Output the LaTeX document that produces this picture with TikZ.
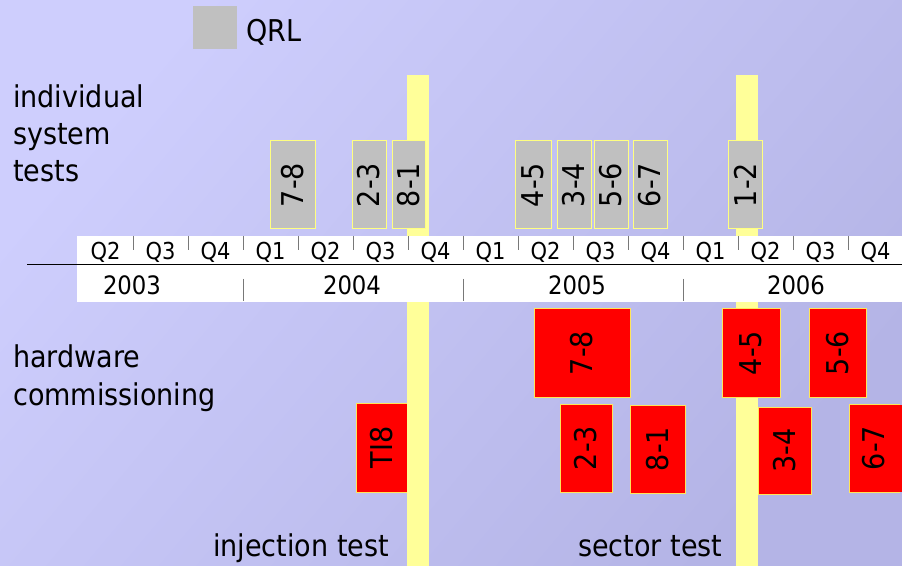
\documentclass[tikz,border=0pt]{standalone}
\usepackage{fontspec}
\setmainfont{DejaVu Sans Condensed}
\definecolor{bgL}{RGB}{206,206,253}
\definecolor{bgR}{RGB}{180,180,230}
\definecolor{barY}{RGB}{255,255,153}
\definecolor{qrlgray}{RGB}{192,192,192}
\definecolor{qedge}{RGB}{255,255,128}
\definecolor{hwred}{RGB}{255,0,0}
\definecolor{hedge}{RGB}{255,230,90}
\definecolor{tickc}{RGB}{120,120,120}
\begin{document}
\begin{tikzpicture}[x=0.75pt,y=-0.75pt,
  big/.style={font=\fontsize{22.5}{27}\selectfont, inner sep=0pt, anchor=base west},
  qlab/.style={font=\fontsize{17.5}{20}\selectfont, inner sep=0pt, anchor=base},
  ylab/.style={font=\fontsize{19}{22}\selectfont, inner sep=0pt, anchor=base},
  sz/.style 2 args={minimum width={#1*0.75pt}, minimum height={#2*0.75pt}},
  rot/.style={rotate=90, inner sep=0pt, font=\fontsize{22.5}{27}\selectfont},
  qbox/.style={rot, draw=qedge, fill=qrlgray, line width=0.75pt},
  hbox/.style={rot, draw=hedge, fill=hwred, line width=0.75pt},
  ybar/.style={fill=barY},
  tick/.style={draw=tickc, line width=0.75pt}]
\useasboundingbox (0,0) rectangle (902,566);
\clip (0,0) rectangle (902,566);
\shade[top color=bgL, bottom color=bgR, shading angle=50] (0,0) rectangle (902,566);

% legend
\node[fill=qrlgray, inner sep=0pt, sz={44}{43}] (leg) at (215,27.5) {};
\node[big] (legt) at (246,42) {QRL};

% TI8 (under the bar)
\node[hbox, sz={89}{51}] (hTI8) at (381.5,447.5) {TI8};

% yellow bars
\fill[ybar] (407,75) rectangle (429,566);
\fill[ybar] (736,75) rectangle (758,566);

% time band
\fill[white] (77,236) rectangle (902,302);
\draw[black, line width=0.75pt] (27,265) -- (902,265);
\foreach \x in {133,188,243,298,353,408,463,518,573,628,683,738,793,848}
  \draw[tick] (\x,236) -- (\x,250);
\foreach \x in {243,463,683}
  \draw[tick] (\x,279) -- (\x,301);

\foreach \x/\q [count=\i] in {105.5/Q2,160.5/Q3,215.5/Q4,270.5/Q1,325.5/Q2,380.5/Q3,435.5/Q4,490.5/Q1,545.5/Q2,600.5/Q3,655.5/Q4,710.5/Q1,765.5/Q2,820.5/Q3,875.5/Q4}
  \node[qlab] (q\i) at (\x,259.5) {\q};

\node[ylab] (y2003) at (132,295) {2003};
\node[ylab] (y2004) at (352,295) {2004};
\node[ylab] (y2005) at (577,295) {2005};
\node[ylab] (y2006) at (796,295) {2006};

% row labels
\node[big] (l1) at (13,108) {individual};
\node[big] (l2) at (13,145) {system};
\node[big] (l3) at (13,182) {tests};
\node[big] (l4) at (13,367) {hardware};
\node[big] (l5) at (13,405) {commissioning};
\node[big] (l6) at (213,556) {injection test};
\node[big] (l7) at (578,556) {sector test};

% individual system tests (QRL)
\node[qbox, sz={88}{45}] (s78) at (292.5,185) {7-8};
\node[qbox, sz={88}{34}] (s23) at (369,185) {2-3};
\node[qbox, sz={88}{33}] (s81) at (408.5,185) {8-1};
\node[qbox, sz={88}{36}] (s45) at (533,185) {4-5};
\node[qbox, sz={88}{34}] (s34) at (574,185) {3-4};
\node[qbox, sz={88}{34}] (s56) at (611,185) {5-6};
\node[qbox, sz={88}{34}] (s67) at (650,185) {6-7};
\node[qbox, sz={88}{34}] (s12) at (745,185) {1-2};

% hardware commissioning
\node[hbox, sz={88}{96}] (h78) at (582,353) {7-8};
\node[hbox, sz={88}{52}] (h23) at (586,448) {2-3};
\node[hbox, sz={88}{55}] (h81) at (657.5,449) {8-1};
\node[hbox, sz={88}{58}] (h45) at (751,353) {4-5};
\node[hbox, sz={88}{57}] (h56) at (837.5,353) {5-6};
\node[hbox, sz={87}{53}] (h34) at (784.5,450.5) {3-4};
\node[hbox, sz={88}{50}] (h67) at (874,448) {6-7};
\fill[hwred] (898,404.5) rectangle (902,491.5);
\end{tikzpicture}
\end{document}
